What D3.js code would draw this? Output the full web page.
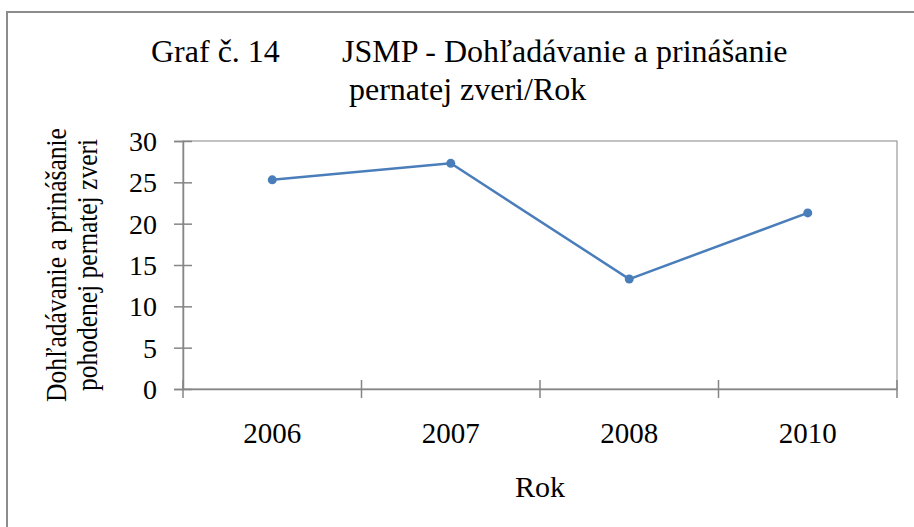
<!DOCTYPE html>
<html>
<head>
<meta charset="utf-8">
<script src="https://cdn.jsdelivr.net/npm/d3@7"></script>
<style>
  body { margin: 0; background: #fff; }
  svg text { font-family: "Liberation Serif", "Times New Roman", serif; fill: #000; }
</style>
</head>
<body>
<svg id="chart" width="914" height="527"></svg>
<script>
const years = ["2006", "2007", "2008", "2010"];
const values = [25.3, 27.3, 13.3, 21.3];
const yTicks = [0, 5, 10, 15, 20, 25, 30];

const svg = d3.select("#chart");
const margin = { top: 141, left: 183, right: 17, bottom: 138 };
const width = +svg.attr("width");
const height = +svg.attr("height");
const innerW = width - margin.left - margin.right;
const innerH = height - margin.top - margin.bottom;
const axisColor = "#868686";

// outer chart frame (cut off at right and bottom)
svg.append("rect")
  .attr("x", 7).attr("y", 12)
  .attr("width", 940).attr("height", 560)
  .attr("fill", "none")
  .attr("stroke", "#8c8c8c")
  .attr("stroke-width", 2);

// title
const title = svg.append("g").style("font-size", "32px");
title.append("text").attr("x", 151).attr("y", 62).text("Graf č. 14");
title.append("text").attr("x", 342).attr("y", 62).text("JSMP - Dohľadávanie a prinášanie");
title.append("text").attr("x", 349).attr("y", 100).text("pernatej zveri/Rok");

const x = d3.scaleBand().domain(years).range([0, innerW]).padding(0);
const y = d3.scaleLinear().domain([0, 30]).range([innerH, 0]);

const g = svg.append("g").attr("transform", `translate(${margin.left},${margin.top})`);

// plot area border
g.append("rect")
  .attr("width", innerW).attr("height", innerH)
  .attr("fill", "none").attr("stroke", axisColor).attr("stroke-width", 1);

// y axis with cross ticks
const yAxis = g.append("g")
  .call(d3.axisLeft(y).tickValues(yTicks).tickSize(9).tickPadding(17))
  .style("font-size", "28px")
  .style("font-family", "Liberation Serif");
yAxis.select(".domain").attr("stroke", axisColor).attr("stroke-width", 1.5);
yAxis.selectAll(".tick line").attr("stroke", axisColor).attr("x2", -9).attr("x1", 9).attr("stroke-width", 1.5);
yAxis.selectAll(".tick text").attr("dy", "0.34em");

// x axis: labels centred in bands, ticks at band boundaries
const xAxis = g.append("g")
  .attr("transform", `translate(0,${innerH})`)
  .call(d3.axisBottom(x).tickSize(0).tickPadding(33))
  .style("font-size", "29px")
  .style("font-family", "Liberation Serif");
xAxis.select(".domain").attr("stroke", axisColor).attr("stroke-width", 1.5);

const bounds = years.map(d => x(d)).concat([x.range()[1]]);
xAxis.selectAll(".bound")
  .data(bounds)
  .join("line")
  .attr("class", "bound")
  .attr("x1", d => d).attr("x2", d => d)
  .attr("y1", -9).attr("y2", 9)
  .attr("stroke", axisColor).attr("stroke-width", 1.5);

// axis titles
svg.append("text")
  .attr("x", margin.left + innerW / 2)
  .attr("y", 497)
  .attr("text-anchor", "middle")
  .style("font-size", "30px")
  .text("Rok");

const yTitle = svg.append("text")
  .attr("transform", `translate(66,${margin.top + innerH / 2}) rotate(-90) scale(0.88,1)`)
  .attr("text-anchor", "middle")
  .style("font-size", "29px");
yTitle.append("tspan").attr("x", 0).attr("y", 0).text("Dohľadávanie a prinášanie");
yTitle.append("tspan").attr("x", 0).attr("y", 31).text("pohodenej pernatej zveri");

// series
const line = d3.line()
  .x((d, i) => x(years[i]) + x.bandwidth() / 2)
  .y(d => y(d));

g.append("path")
  .datum(values)
  .attr("fill", "none")
  .attr("stroke", "#4a7ebb")
  .attr("stroke-width", 2.5)
  .attr("d", line);

g.selectAll("circle")
  .data(values)
  .join("circle")
  .attr("cx", (d, i) => x(years[i]) + x.bandwidth() / 2)
  .attr("cy", d => y(d))
  .attr("r", 4.5)
  .attr("fill", "#4a7ebb");
</script>
</body>
</html>
